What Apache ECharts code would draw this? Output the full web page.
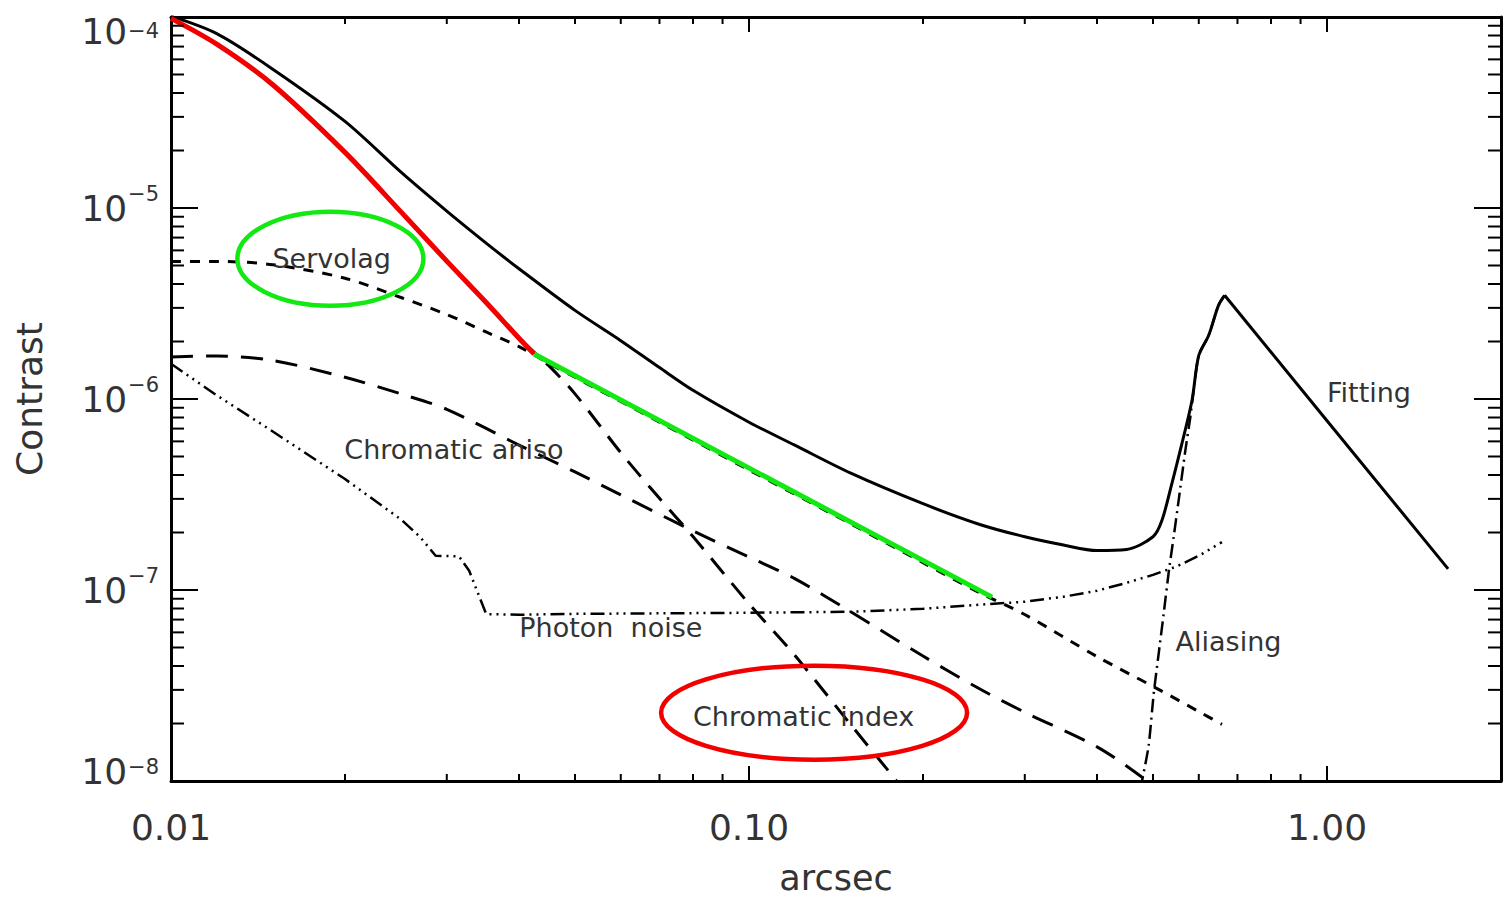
<!DOCTYPE html>
<html>
<head>
<meta charset="utf-8">
<script src="https://cdn.jsdelivr.net/npm/echarts@6/dist/echarts.min.js"></script>
<style>
html,body{margin:0;padding:0;background:#ffffff;}
#chart{width:1505px;height:897px;}
</style>
</head>
<body>
<div id="chart"></div>
<script>
// ---------------- data ----------------
// Total contrast (solid)
const totalX = [0.01, 0.012, 0.015, 0.02, 0.025, 0.03, 0.035, 0.04, 0.05, 0.06, 0.07, 0.08, 0.1, 0.12, 0.15, 0.2, 0.25, 0.3, 0.35, 0.4, 0.45, 0.5, 0.518, 0.539, 0.561, 0.584, 0.6, 0.624, 0.649, 0.665];
const totalY = [1.01e-4, 8.18e-5, 5.33e-5, 2.84e-5, 1.54e-5, 9.63e-6, 6.59e-6, 4.81e-6, 2.91e-6, 2.02e-6, 1.46e-6, 1.11e-6, 7.56e-7, 5.73e-7, 4.09e-7, 2.83e-7, 2.21e-7, 1.90e-7, 1.72e-7, 1.61e-7, 1.63e-7, 1.90e-7, 2.31e-7, 3.61e-7, 5.84e-7, 9.82e-7, 1.69e-6, 2.15e-6, 3.09e-6, 3.49e-6];
// Fitting (solid, beyond control radius)
const fittingX = [0.665, 1.0, 1.62];
const fittingY = [3.49e-6, 7.70e-7, 1.29e-7];
// Chromatic index (long dash)
const chromIndexX = [0.01, 0.012, 0.015, 0.02, 0.025, 0.03, 0.035, 0.04, 0.045, 0.05, 0.06, 0.07, 0.08, 0.1, 0.12, 0.15, 0.18, 0.19];
const chromIndexY = [9.84e-5, 7.21e-5, 4.42e-5, 1.955e-5, 9.54e-6, 5.27e-6, 3.23e-6, 2.08e-6, 1.50e-6, 1.064e-6, 5.24e-7, 3.02e-7, 1.905e-7, 8.47e-8, 4.55e-8, 1.97e-8, 1.0e-8, 8.0e-9];
// Servolag (short dash)
const servolagX = [0.01, 0.012, 0.015, 0.02, 0.025, 0.03, 0.035, 0.04, 0.045, 0.05, 0.07, 0.1, 0.15, 0.2, 0.25, 0.3, 0.4, 0.5, 0.6, 0.658];
const servolagY = [5.25e-6, 5.25e-6, 5.05e-6, 4.29e-6, 3.40e-6, 2.77e-6, 2.25e-6, 1.88e-6, 1.54e-6, 1.30e-6, 7.57e-7, 4.25e-7, 2.22e-7, 1.39e-7, 9.71e-8, 7.44e-8, 4.48e-8, 3.13e-8, 2.31e-8, 1.98e-8];
// Chromatic aniso (long dash)
const chromAnisoX = [0.01, 0.012, 0.015, 0.02, 0.025, 0.03, 0.04, 0.05, 0.06, 0.08, 0.1, 0.12, 0.15, 0.2, 0.25, 0.3, 0.4, 0.48, 0.49];
const chromAnisoY = [1.66e-6, 1.68e-6, 1.59e-6, 1.30e-6, 1.063e-6, 8.83e-7, 5.74e-7, 4.15e-7, 3.15e-7, 2.04e-7, 1.488e-7, 1.147e-7, 7.69e-8, 4.51e-8, 3.05e-8, 2.29e-8, 1.51e-8, 1.04e-8, 9.6e-9];
// Photon noise (dash dot dot dot)
const photonX = [0.01, 0.012, 0.015, 0.02, 0.025, 0.027, 0.0287, 0.0315, 0.0328, 0.0351, 0.04, 0.05, 0.1, 0.15, 0.2, 0.25, 0.3, 0.35, 0.4, 0.45, 0.5, 0.55, 0.6, 0.658];
const photonY = [1.53e-6, 1.045e-6, 6.76e-7, 3.81e-7, 2.34e-7, 1.89e-7, 1.51e-7, 1.50e-7, 1.26e-7, 7.48e-8, 7.42e-8, 7.50e-8, 7.60e-8, 7.69e-8, 7.97e-8, 8.37e-8, 8.68e-8, 9.22e-8, 9.91e-8, 1.09e-7, 1.20e-7, 1.33e-7, 1.51e-7, 1.78e-7];
// Aliasing (dash dot)
const aliasingX = [0.475, 0.4786, 0.4914, 0.5013, 0.5113, 0.5216, 0.5321, 0.5428, 0.5537, 0.5687, 0.5801, 0.5996, 0.624, 0.649, 0.665];
const aliasingY = [9.0e-9, 1.0e-8, 1.53e-8, 2.85e-8, 4.62e-8, 7.48e-8, 1.23e-7, 1.89e-7, 2.94e-7, 5.37e-7, 8.03e-7, 1.69e-6, 2.15e-6, 3.09e-6, 3.49e-6];
// Highlights drawn over the reference (red: chromatic index dominates, green: servolag dominates)
const redHighlightX = [0.01, 0.012, 0.015, 0.02, 0.025, 0.03, 0.035, 0.04, 0.0425];
const redHighlightY = [9.84e-5, 7.21e-5, 4.42e-5, 1.955e-5, 9.54e-6, 5.27e-6, 3.23e-6, 2.08e-6, 1.72e-6];
const greenHighlightX = [0.0425, 0.2634];
const greenHighlightY = [1.72e-6, 9.18e-8];

// axis ranges and tick values
const X_MIN = 0.01, X_MAX = 2.0, Y_MIN = 1e-8, Y_MAX = 1e-4;
const xMinorTicks = [0.02, 0.03, 0.04, 0.05, 0.06, 0.07, 0.08, 0.09, 0.2, 0.3, 0.4, 0.5, 0.6, 0.7, 0.8, 0.9];
const yMinorTicks = [2e-8, 3e-8, 4e-8, 5e-8, 6e-8, 7e-8, 8e-8, 9e-8,
                     2e-7, 3e-7, 4e-7, 5e-7, 6e-7, 7e-7, 8e-7, 9e-7,
                     2e-6, 3e-6, 4e-6, 5e-6, 6e-6, 7e-6, 8e-6, 9e-6,
                     2e-5, 3e-5, 4e-5, 5e-5, 6e-5, 7e-5, 8e-5, 9e-5];

// annotation texts (anchored in data coordinates)
const annotationTexts = ['Servolag', 'Chromatic aniso', 'Photon  noise', 'Chromatic index', 'Fitting', 'Aliasing'];
const annotationX = [0.01498, 0.01995, 0.04004, 0.0800, 1.0, 0.547];
const annotationY = [5.45e-6, 5.43e-7, 6.34e-8, 2.17e-8, 1.08e-6, 5.35e-8];
const ellipseCenterX = [0.01887, 0.1296];
const ellipseCenterY = [5.43e-6, 2.28e-8];

// ---------------- chart ----------------
const FONT = 'DejaVu Sans';
const TXT = '#333333';
function pairs(xs, ys) { return xs.map(function (x, i) { return [x, ys[i]]; }); }
function isDecade(v) { const l = Math.log10(v); return Math.abs(l - Math.round(l)) < 1e-6; }

function lineSeries(name, xs, ys, color, width, dash, z, smooth) {
  return {
    type: 'line', name: name, data: pairs(xs, ys), showSymbol: false, symbol: 'none',
    smooth: smooth || false, clip: true, z: z || 2, silent: true, animation: false,
    lineStyle: { color: color, width: width, type: dash || 'solid', cap: 'butt', join: 'round' }
  };
}

const axisLineStyle = { color: '#000', width: 3 };
const supBase = { fontFamily: FONT, color: TXT };

const option = {
  animation: false,
  backgroundColor: '#ffffff',
  grid: { left: 171, right: 4, top: 17, bottom: 116, containLabel: false, outerBoundsMode: 'none' },
  xAxis: [
    {
      type: 'log', logBase: 10, min: X_MIN, max: X_MAX, position: 'bottom',
      name: 'arcsec', nameLocation: 'middle', nameGap: 82,
      nameTextStyle: { fontFamily: FONT, fontSize: 35, lineHeight: 30, color: TXT },
      axisLine: { show: true, onZero: false, lineStyle: axisLineStyle },
      axisTick: { show: true, inside: true, length: 15, lineStyle: { color: '#000', width: 2 } },
      splitLine: { show: false }, minorTick: { show: false },
      axisLabel: {
        show: true, margin: 28, fontFamily: FONT, fontSize: 36, color: TXT,
        showMinLabel: true, showMaxLabel: true,
        formatter: function (v) { return isDecade(v) ? v.toFixed(2) : ''; }
      }
    },
    {
      type: 'log', logBase: 10, min: X_MIN, max: X_MAX, position: 'top',
      axisLine: { show: true, onZero: false, lineStyle: axisLineStyle },
      axisTick: { show: true, inside: true, length: 15, lineStyle: { color: '#000', width: 2 } },
      splitLine: { show: false }, axisLabel: { show: false }
    }
  ],
  yAxis: [
    {
      type: 'log', logBase: 10, min: Y_MIN, max: Y_MAX, position: 'left',
      name: 'Contrast', nameLocation: 'middle', nameGap: 124,
      nameTextStyle: { fontFamily: FONT, fontSize: 36, color: TXT },
      axisLine: { show: true, onZero: false, lineStyle: axisLineStyle },
      axisTick: { show: true, inside: true, length: 27, lineStyle: { color: '#000', width: 2 } },
      splitLine: { show: false }, minorTick: { show: false },
      axisLabel: {
        show: true, margin: 12, showMinLabel: true, showMaxLabel: true,
        fontFamily: FONT, fontSize: 36, color: TXT,
        formatter: function (v) {
          if (!isDecade(v)) return '';
          const e = Math.round(Math.log10(v));
          const sup = '\u2212' + Math.abs(e);
          if (Math.abs(v - Y_MAX) / Y_MAX < 1e-6) return '{bt|10}{st|' + sup + '}';
          if (Math.abs(v - Y_MIN) / Y_MIN < 1e-6) return '{bb|10}{sb|' + sup + '}';
          return '{b|10}{s|' + sup + '}';
        },
        rich: {
          b:  Object.assign({ fontSize: 36, lineHeight: 50, verticalAlign: 'middle' }, supBase),
          s:  Object.assign({ fontSize: 21, lineHeight: 20, verticalAlign: 'top', padding: [0, 0, 0, 1] }, supBase),
          bt: Object.assign({ fontSize: 36, lineHeight: 50, verticalAlign: 'middle', padding: [28, 0, 0, 0] }, supBase),
          st: Object.assign({ fontSize: 21, lineHeight: 20, verticalAlign: 'top', padding: [28, 0, 0, 1] }, supBase),
          bb: Object.assign({ fontSize: 36, lineHeight: 50, verticalAlign: 'middle', padding: [0, 0, 20, 0] }, supBase),
          sb: Object.assign({ fontSize: 21, lineHeight: 20, verticalAlign: 'top', padding: [0, 0, 0, 1] }, supBase)
        }
      }
    },
    {
      type: 'log', logBase: 10, min: Y_MIN, max: Y_MAX, position: 'right',
      axisLine: { show: true, onZero: false, lineStyle: axisLineStyle },
      axisTick: { show: true, inside: true, length: 27, lineStyle: { color: '#000', width: 2 } },
      splitLine: { show: false }, axisLabel: { show: false }
    }
  ],
  series: [
    lineSeries('Servolag', servolagX, servolagY, '#000', 3, [10, 9], 2, 0.3),
    lineSeries('Chromatic aniso', chromAnisoX, chromAnisoY, '#000', 3, [22, 13], 2, 0.3),
    lineSeries('Chromatic index', chromIndexX, chromIndexY, '#000', 3, [20, 12], 2, 0.3),
    lineSeries('Photon noise', photonX, photonY, '#000', 2.5, [14, 5, 2, 5, 2, 5, 2, 5], 2, false),
    lineSeries('Aliasing', aliasingX, aliasingY, '#000', 2.5, [14, 5, 2, 5], 2, 0.2),
    lineSeries('Total', totalX, totalY, '#000', 3, 'solid', 3, 0.3),
    lineSeries('Fitting', fittingX, fittingY, '#000', 3, 'solid', 3, false),
    lineSeries('Chromatic index dominant', redHighlightX, redHighlightY, '#f20000', 5, 'solid', 4, 0.3),
    lineSeries('Servolag dominant', greenHighlightX, greenHighlightY, '#12e812', 5, 'solid', 4, false),
    {
      type: 'custom', name: 'xMinorTicks', silent: true, clip: false, z: 6, animation: false,
      data: xMinorTicks.map(function (v) { return [v, Y_MIN]; }),
      renderItem: function (params, api) {
        const cs = params.coordSys;
        const x = api.coord([api.value(0), Y_MIN])[0];
        const yb = cs.y + cs.height, yt = cs.y;
        return { type: 'group', children: [
          { type: 'line', shape: { x1: x, y1: yb, x2: x, y2: yb - 7 }, style: { stroke: '#000', lineWidth: 2 } },
          { type: 'line', shape: { x1: x, y1: yt, x2: x, y2: yt + 7 }, style: { stroke: '#000', lineWidth: 2 } }
        ] };
      }
    },
    {
      type: 'custom', name: 'yMinorTicks', silent: true, clip: false, z: 6, animation: false,
      data: yMinorTicks.map(function (v) { return [X_MIN, v]; }),
      renderItem: function (params, api) {
        const cs = params.coordSys;
        const y = api.coord([X_MIN, api.value(1)])[1];
        const xl = cs.x, xr = cs.x + cs.width;
        return { type: 'group', children: [
          { type: 'line', shape: { x1: xl, y1: y, x2: xl + 13, y2: y }, style: { stroke: '#000', lineWidth: 2 } },
          { type: 'line', shape: { x1: xr, y1: y, x2: xr - 13, y2: y }, style: { stroke: '#000', lineWidth: 2 } }
        ] };
      }
    }
  ]
};

const chart = echarts.init(document.getElementById('chart'), null, { renderer: 'svg', width: 1505, height: 897 });
chart.setOption(option);

// annotations positioned through the chart's own scales
const graphics = [];
annotationTexts.forEach(function (t, i) {
  const p = chart.convertToPixel({ gridIndex: 0 }, [annotationX[i], annotationY[i]]);
  graphics.push({
    type: 'text', x: p[0], y: p[1], z: 50, silent: true,
    style: { text: t, fontFamily: FONT, fontSize: 27, fill: TXT, align: 'left', verticalAlign: 'middle' }
  });
});
const ellipseColors = ['#12e812', '#f20000'];
const ellipseRadii = [[93, 47], [153, 47]];
ellipseCenterX.forEach(function (cx, i) {
  const p = chart.convertToPixel({ gridIndex: 0 }, [cx, ellipseCenterY[i]]);
  graphics.push({
    type: 'ellipse', z: 60, silent: true,
    shape: { cx: p[0], cy: p[1], rx: ellipseRadii[i][0], ry: ellipseRadii[i][1] },
    style: { fill: 'none', stroke: ellipseColors[i], lineWidth: 4.5 }
  });
});
chart.setOption({ graphic: graphics });
</script>
</body>
</html>
